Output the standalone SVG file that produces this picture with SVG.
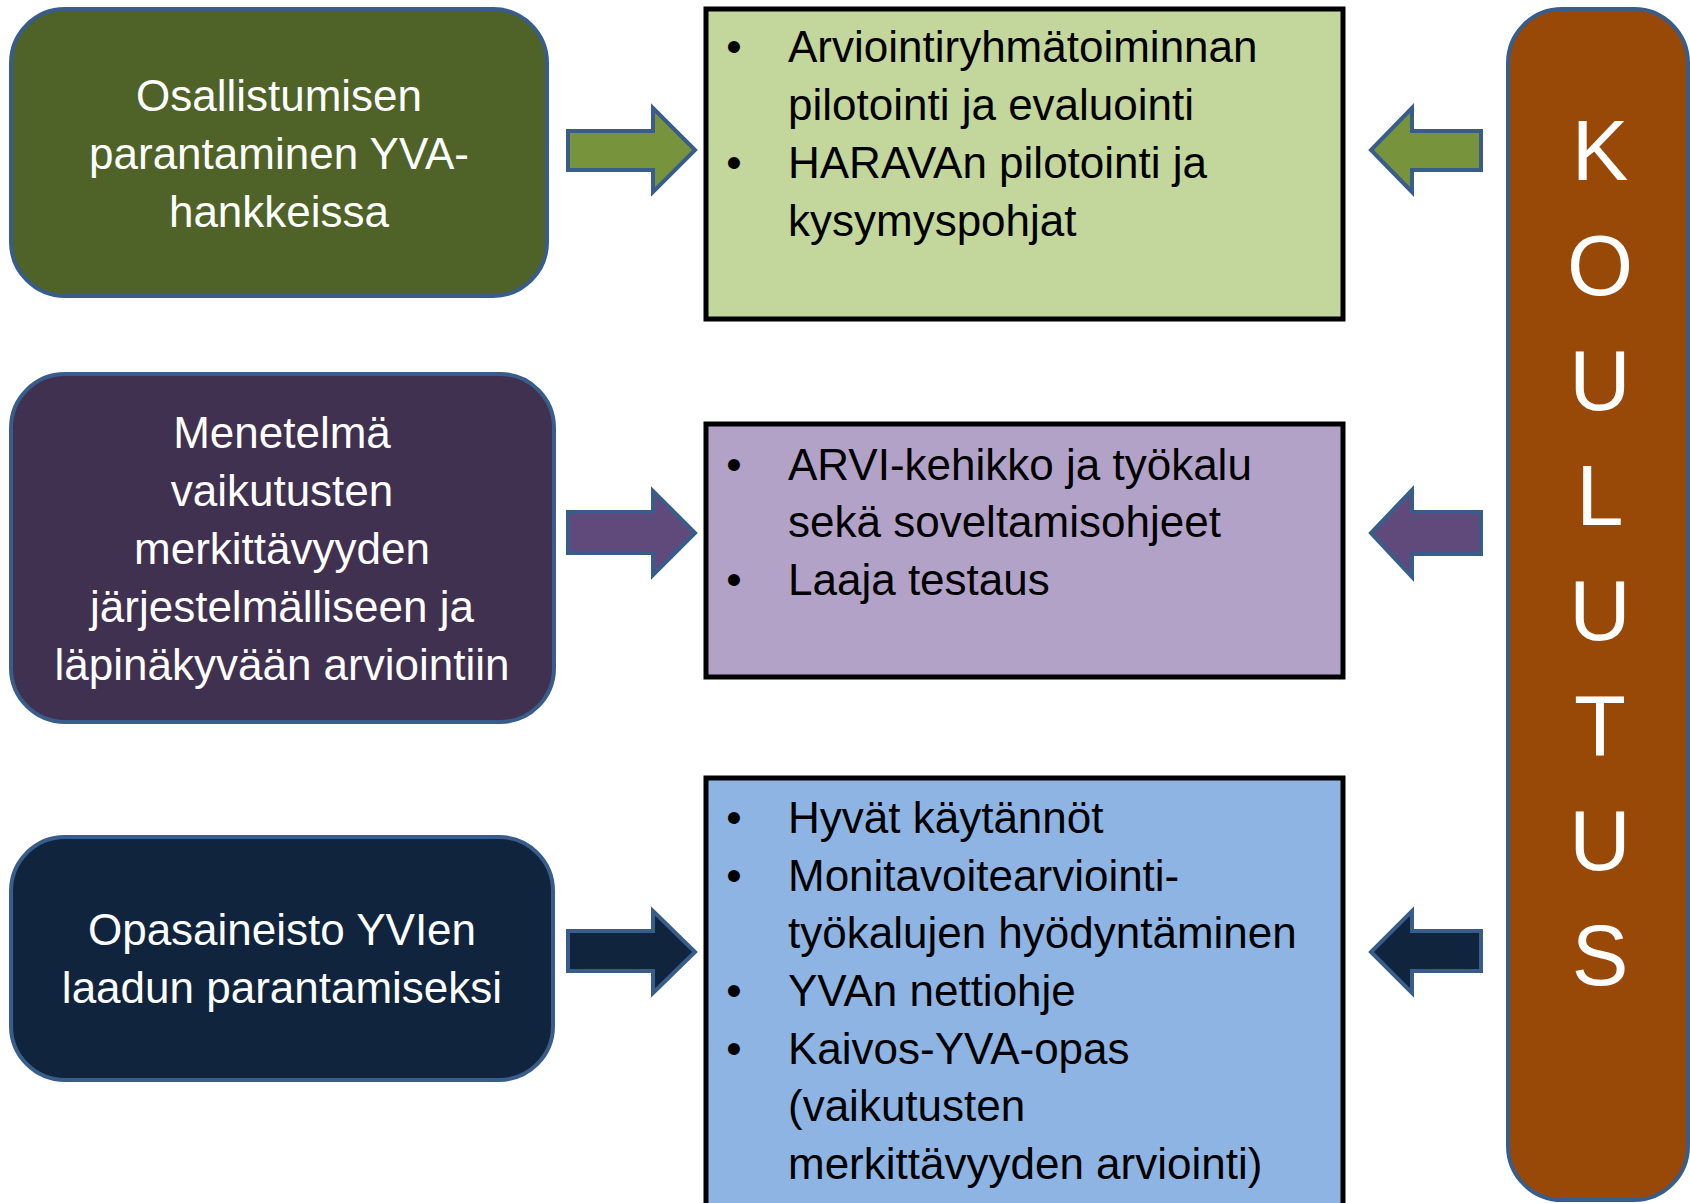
<svg xmlns="http://www.w3.org/2000/svg" width="1690" height="1203" viewBox="0 0 1690 1203">
<style>
.lt{font-family:"Liberation Sans",Arial,sans-serif;font-size:44px;fill:#ffffff;text-anchor:middle}
.ct{font-family:"Liberation Sans",Arial,sans-serif;font-size:44px;fill:#000000}
.bu{text-anchor:middle}
.node{stroke:#385D8A;stroke-width:4}
.cbox{stroke:#000000;stroke-width:5}
.arr{stroke:#385D8A;stroke-width:4;stroke-linejoin:miter}
.kl{font-family:"Liberation Sans",Arial,sans-serif;font-size:85px;fill:#ffffff;text-anchor:middle}
</style>
<rect width="1690" height="1203" fill="#ffffff"/>
<g id="node-osallistuminen">
<rect class="node" x="11" y="9" width="536" height="287" rx="54" fill="#4F6228"/>
<text class="lt" x="279" y="111">Osallistumisen</text>
<text class="lt" x="279" y="169">parantaminen YVA-</text>
<text class="lt" x="279" y="227">hankkeissa</text>
</g>
<g id="node-menetelma">
<rect class="node" x="11" y="374" width="543" height="348" rx="54" fill="#403151"/>
<text class="lt" x="282" y="448">Menetelmä</text>
<text class="lt" x="282" y="506">vaikutusten</text>
<text class="lt" x="282" y="564">merkittävyyden</text>
<text class="lt" x="282" y="622">järjestelmälliseen ja</text>
<text class="lt" x="282" y="680">läpinäkyvään arviointiin</text>
</g>
<g id="node-opasaineisto">
<rect class="node" x="11" y="837" width="542" height="243" rx="54" fill="#10243E"/>
<text class="lt" x="282" y="945">Opasaineisto YVIen</text>
<text class="lt" x="282" y="1003">laadun parantamiseksi</text>
</g>
<g id="node-green-content">
<rect class="cbox" x="706" y="9" width="637" height="310" fill="#C3D69B"/>
<text class="ct bu" x="734" y="62">•</text>
<text class="ct" x="788" y="62">Arviointiryhmätoiminnan</text>
<text class="ct" x="788" y="120">pilotointi ja evaluointi</text>
<text class="ct bu" x="734" y="178">•</text>
<text class="ct" x="788" y="178">HARAVAn pilotointi ja</text>
<text class="ct" x="788" y="236">kysymyspohjat</text>
</g>
<g id="node-purple-content">
<rect class="cbox" x="706" y="424" width="637" height="253" fill="#B3A2C7"/>
<text class="ct bu" x="734" y="480">•</text>
<text class="ct" x="788" y="480">ARVI-kehikko ja työkalu</text>
<text class="ct" x="788" y="537">sekä soveltamisohjeet</text>
<text class="ct bu" x="734" y="595">•</text>
<text class="ct" x="788" y="595">Laaja testaus</text>
</g>
<g id="node-blue-content">
<rect class="cbox" x="706" y="778" width="637" height="440" fill="#8EB4E3"/>
<text class="ct bu" x="734" y="833">•</text>
<text class="ct" x="788" y="833">Hyvät käytännöt</text>
<text class="ct bu" x="734" y="891">•</text>
<text class="ct" x="788" y="891">Monitavoitearviointi-</text>
<text class="ct" x="788" y="948">työkalujen hyödyntäminen</text>
<text class="ct bu" x="734" y="1006">•</text>
<text class="ct" x="788" y="1006">YVAn nettiohje</text>
<text class="ct bu" x="734" y="1064">•</text>
<text class="ct" x="788" y="1064">Kaivos-YVA-opas</text>
<text class="ct" x="788" y="1121">(vaikutusten</text>
<text class="ct" x="788" y="1179">merkittävyyden arviointi)</text>
</g>
<g id="node-koulutus">
<rect class="node" x="1508" y="9" width="180" height="1191" rx="54" fill="#984807"/>
<text class="kl" x="1600" y="180">K</text>
<text class="kl" x="1600" y="295">O</text>
<text class="kl" x="1600" y="410">U</text>
<text class="kl" x="1600" y="525">L</text>
<text class="kl" x="1600" y="640">U</text>
<text class="kl" x="1600" y="755">T</text>
<text class="kl" x="1600" y="870">U</text>
<text class="kl" x="1600" y="985">S</text>
</g>
<g id="connectors">
<polygon class="arr" fill="#77933C" points="568,131 653,131 653,108 695,150 653,192 653,170 568,170"/>
<polygon class="arr" fill="#604A7B" points="568,512 653,512 653,491 695,533 653,575 653,553 568,553"/>
<polygon class="arr" fill="#10243E" points="568,931 653,931 653,911 695,952 653,993 653,971 568,971"/>
<polygon class="arr" fill="#77933C" points="1481,131 1412,131 1412,108 1371,150 1412,192 1412,170 1481,170"/>
<polygon class="arr" fill="#604A7B" points="1481,512 1412,512 1412,490 1371,533 1412,577 1412,554 1481,554"/>
<polygon class="arr" fill="#10243E" points="1481,931 1412,931 1412,911 1371,952 1412,993 1412,971 1481,971"/>
</g>
</svg>
